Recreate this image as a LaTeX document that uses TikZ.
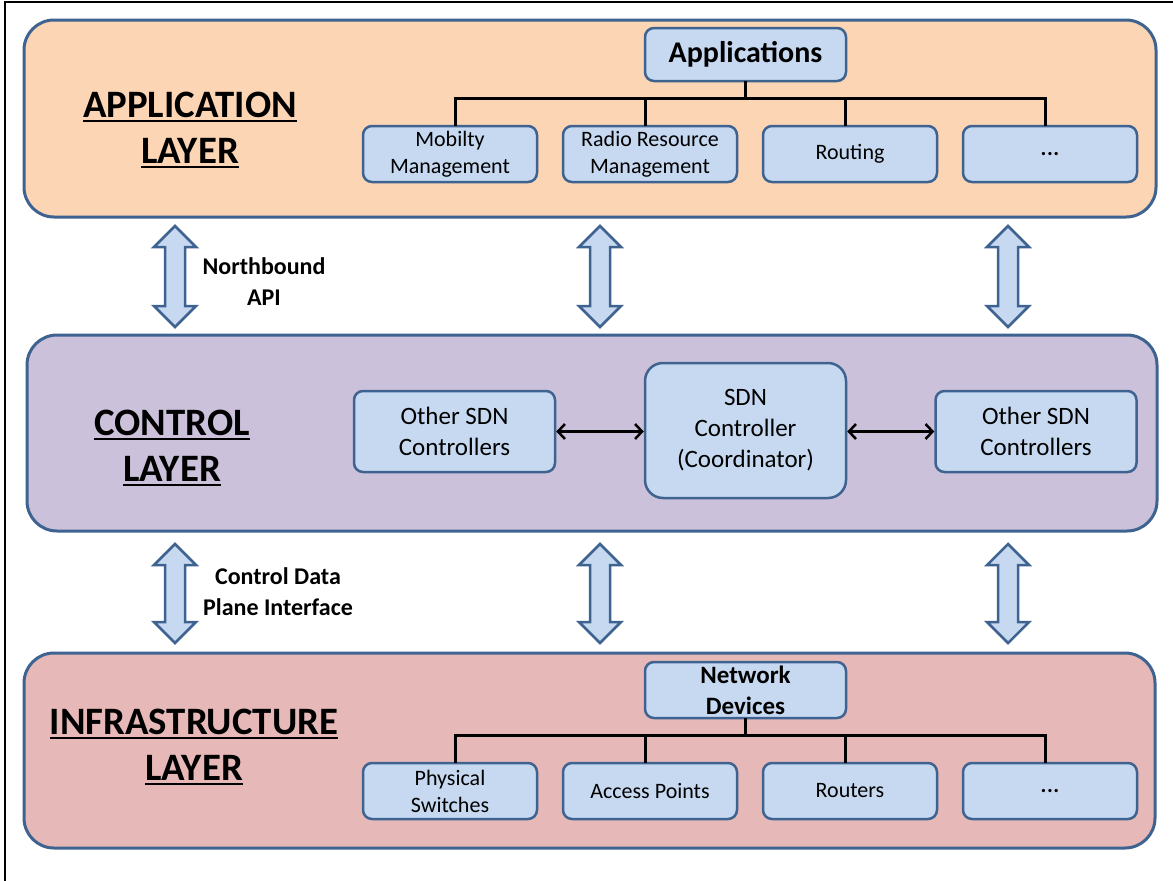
\documentclass[tikz,border=0pt]{standalone}
\usepackage{fontspec}
\setmainfont{Carlito}
\usetikzlibrary{arrows.meta}
\definecolor{bord}{HTML}{3F6391}
\definecolor{appfill}{HTML}{FCD5B5}
\definecolor{ctlfill}{HTML}{CCC1DA}
\definecolor{infill}{HTML}{E6B9B8}
\definecolor{boxfill}{HTML}{C6D9F1}
\newsavebox\ulbox
\newcommand\ulx[1]{\sbox\ulbox{#1}\rlap{\rule[-0.14em]{\wd\ulbox}{0.075em}}\usebox\ulbox}
\newcommand\dotsx{\textbf{.\kern0.5pt.\kern0.5pt.}}
\begin{document}
\begin{tikzpicture}[x=1pt,y=-1pt,
  layer/.style={draw=bord, line width=3pt, rounded corners=30pt},
  sbox/.style={draw=bord, fill=boxfill, line width=2.5pt, rounded corners=9pt, inner sep=0pt, align=center,
               font=\fontsize{22}{27}\selectfont, minimum width=174pt, minimum height=56pt},
  ctl/.style={sbox, font=\fontsize{25}{31}\selectfont, minimum width=201pt, minimum height=81pt},
  title/.style={align=center, font=\bfseries\fontsize{38.8}{46}\selectfont, inner sep=0pt},
  lbl/.style={align=center, font=\bfseries\fontsize{24}{31}\selectfont, inner sep=0pt},
  tree/.style={line width=3pt, line cap=rect},
  blk/.style={draw=bord, fill=boxfill, line width=2.5pt, line join=miter},
  harr/.style={line width=2.5pt, {Straight Barb[length=7pt,width=15pt]}-{Straight Barb[length=7pt,width=15pt]}}
]
\useasboundingbox (0,0) rectangle (1173,881);
\fill[white] (0,0) rectangle (1173,881);
\draw[line width=1.5pt] (5,881) -- (5,2) -- (1173,2);

% layers
\draw[layer, fill=appfill] (24,20) rectangle (1156,217);
\draw[layer, fill=ctlfill] (27,335) rectangle (1157,531);
\draw[layer, fill=infill] (24,653) rectangle (1155,848);

% titles
\node[title] (tapp) at (190,130) {\ulx{APPLICATION}\\\ulx{LAYER}};
\node[title] (tctl) at (172,448) {\ulx{CONTROL}\\\ulx{LAYER}};
\node[title] (tinf) at (194,747) {\ulx{INFRASTRUCTURE}\\\ulx{LAYER}};

% application layer tree
\node[sbox, minimum width=201pt, minimum height=53pt, font=\bfseries\fontsize{30}{34}\selectfont] (apps) at (745.5,54.5) {Applications};
\node[sbox] (a1) at (450,154) {Mobilty\\Management};
\node[sbox] (a2) at (650,154) {Radio Resource\\Management};
\node[sbox] (a3) at (850,154) {Routing};
\node[sbox] (a4) at (1050,154) {\dotsx};
\draw[tree] (apps.south) -- (apps.south |- 0,98);
\draw[tree] ([xshift=5pt]a1.north) |- ([xshift=-5pt]a4.north |- 0,98) -- ([xshift=-5pt]a4.north);
\draw[tree] ([xshift=-5pt]a2.north) -- ([xshift=-5pt]a2.north |- 0,98);
\draw[tree] ([xshift=-5pt]a3.north) -- ([xshift=-5pt]a3.north |- 0,98);

% control layer
\node[ctl] (o1) at (454.5,431.5) {Other SDN\\Controllers};
\node[ctl, minimum height=135pt, rounded corners=18pt] (sdn) at (745.5,430.5) {SDN\\Controller\\(Coordinator)};
\node[ctl] (o2) at (1036,431.5) {Other SDN\\Controllers};
\draw[harr] (o1.east) -- (o1.east -| sdn.west);
\draw[harr] (o2.west) -- (o2.west -| sdn.east);

% infrastructure layer tree
\node[sbox, minimum width=201pt, minimum height=56pt, font=\bfseries\fontsize{25}{31}\selectfont] (net) at (745.5,690) {Network\\Devices};
\node[sbox] (d1) at (450,791) {Physical\\Switches};
\node[sbox] (d2) at (650,791) {Access Points};
\node[sbox] (d3) at (850,791) {Routers};
\node[sbox] (d4) at (1050,791) {\dotsx};
\draw[tree] (net.south) -- (net.south |- 0,735);
\draw[tree] ([xshift=5pt]d1.north) |- ([xshift=-5pt]d4.north |- 0,735) -- ([xshift=-5pt]d4.north);
\draw[tree] ([xshift=-5pt]d2.north) -- ([xshift=-5pt]d2.north |- 0,735);
\draw[tree] ([xshift=-5pt]d3.north) -- ([xshift=-5pt]d3.north |- 0,735);

% block double arrows
\foreach \cx/\yt/\yb in {175/226/327, 600/226/327, 1008/226/327, 175/544/643, 600/544/643, 1008/544/643}{
  \draw[blk] (\cx,\yt) -- (\cx+21,\yt+21) -- (\cx+10,\yt+21) -- (\cx+10,\yb-21) -- (\cx+21,\yb-21)
    -- (\cx,\yb) -- (\cx-21,\yb-21) -- (\cx-10,\yb-21) -- (\cx-10,\yt+21) -- (\cx-21,\yt+21) -- cycle;
}

% interface labels
\node[lbl] (nb) at (264,282) {Northbound\\API};
\node[lbl] (cdpi) at (278,592) {Control Data\\Plane Interface};
\end{tikzpicture}
\end{document}
